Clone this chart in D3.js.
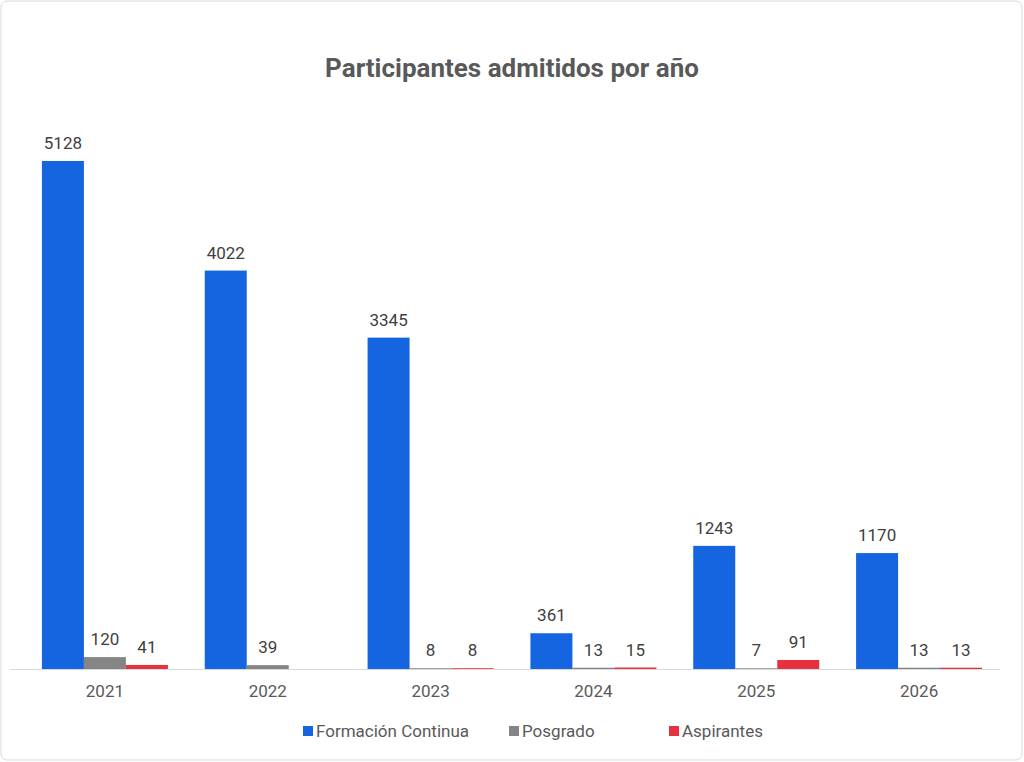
<!DOCTYPE html>
<html><head><meta charset="utf-8">
<script src="https://cdn.jsdelivr.net/npm/d3@7"></script>
<style>body{margin:0;background:#fff;font-family:Roboto,"Liberation Sans",Arial,sans-serif}</style>
</head><body>
<svg id="chart" width="1024" height="762"></svg>
<script>
// chart data
var years = ["2021", "2022", "2023", "2024", "2025", "2026"];
var seriesNames = ["Formación Continua", "Posgrado", "Aspirantes"];
var formacion = [5128, 4022, 3345, 361, 1243, 1170];
var posgrado = [120, 39, 8, 13, 7, 13];
var aspirantes = [41, null, 8, 15, 91, 13];
var colors = ["#1565e0", "#858585", "#e8313f"];

var svg = d3.select("#chart");
svg.append("rect").attr("x", 1).attr("y", 1).attr("width", 1021).attr("height", 759)
  .attr("rx", 6).attr("fill", "#fff").attr("stroke", "#d9d9d9");

svg.append("text").attr("x", 512).attr("y", 77).attr("text-anchor", "middle")
  .attr("font-size", 26).attr("font-weight", "bold").attr("fill", "#595959")
  .text("Participantes admitidos por año");

var x = d3.scaleBand().domain(years).range([23.5, 1000.5]);
var inner = d3.scaleBand().domain(seriesNames).range([0, 126]);
var y = d3.scaleLinear().domain([0, 5128]).range([669, 161]);

var all = [formacion, posgrado, aspirantes];
all.forEach(function(vals, s) {
  var g = svg.append("g");
  years.forEach(function(yr, i) {
    var v = vals[i];
    if (v == null) return;
    var bx = x(yr) + (x.bandwidth() - 126) / 2 + inner(seriesNames[s]);
    g.append("rect").attr("x", bx).attr("width", inner.bandwidth())
      .attr("y", y(v)).attr("height", y(0) - y(v)).attr("fill", colors[s]);
    g.append("text").attr("x", bx + inner.bandwidth() / 2).attr("y", y(v) - 12)
      .attr("text-anchor", "middle").attr("font-size", 17).attr("fill", "#404040")
      .text(v);
  });
});

// x axis
svg.append("line").attr("x1", 10).attr("x2", 1000).attr("y1", 669.5).attr("y2", 669.5)
  .attr("stroke", "#d9d9d9");
years.forEach(function(yr) {
  svg.append("text").attr("x", x(yr) + x.bandwidth() / 2).attr("y", 697)
    .attr("text-anchor", "middle").attr("font-size", 17).attr("fill", "#595959").text(yr);
});

// legend
var lx = [303, 509, 669];
seriesNames.forEach(function(n, i) {
  svg.append("rect").attr("x", lx[i]).attr("y", 726).attr("width", 10).attr("height", 10).attr("fill", colors[i]);
  svg.append("text").attr("x", lx[i] + 13).attr("y", 737).attr("font-size", 17)
    .attr("fill", "#595959").text(n);
});
</script>
</body></html>
